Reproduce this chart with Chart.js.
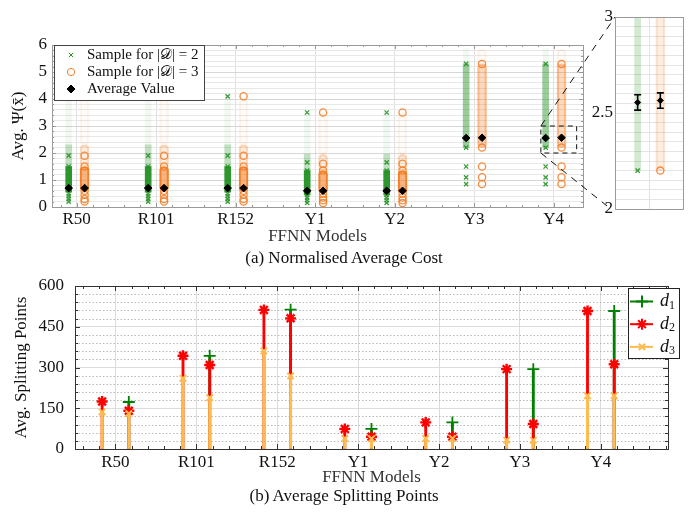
<!DOCTYPE html>
<html>
<head>
<meta charset="utf-8">
<script src="https://cdn.jsdelivr.net/npm/chart.js@4.4.0/dist/chart.umd.min.js"></script>
<style>
  html, body { margin: 0; padding: 0; background: #fff; }
  #fig { position: relative; width: 695px; height: 521px; overflow: hidden; }
  canvas { position: absolute; }
  .caption { position: absolute; left: 0; width: 688px; text-align: center; font: 17px "Liberation Serif", serif; color: #111; z-index: 5; }
</style>
</head>
<body>
<div id="fig">
  <canvas id="costChart" style="left:0;top:0" width="695" height="251"></canvas>
  <canvas id="zoomChart" style="left:580px;top:0" width="110" height="222"></canvas>
  <canvas id="splitChart" style="left:0;top:258px" width="695" height="234"></canvas>
  <div class="caption" style="top:248px">(a) Normalised Average Cost</div>
  <div class="caption" style="top:486px">(b) Average Splitting Points</div>
</div>
<script>
const models = ['R50', 'R101', 'R152', 'Y1', 'Y2', 'Y3', 'Y4'];

// (a) average cost per model, |D| = 2 and |D| = 3
const avgD2 = [0.70, 0.70, 0.70, 0.60, 0.60, 2.555, 2.555];
const avgD3 = [0.70, 0.70, 0.70, 0.60, 0.60, 2.565, 2.565];
const errD2 = [0.03, 0.03, 0.03, 0.03, 0.03, 0.04, 0.04];
const errD3 = [0.03, 0.03, 0.03, 0.03, 0.03, 0.04, 0.04];

// sample clouds as [low, high]: dense core, mid-density column, lighter spread, faint tail
const denseD2 = [[0.55, 1.5], [0.55, 1.5], [0.55, 1.5], [0.45, 1.35], [0.45, 1.35], null, null];
const midD2 = [null, null, null, null, null, [2.2, 5.3], [2.2, 5.3]];
const spreadD2 = [[1.5, 2.3], [1.5, 2.3], [1.5, 2.3], [1.35, 1.95], [1.35, 1.95], null, null];
const faintD2 = [[2.3, 4.0], [2.3, 4.0], [2.3, 4.0], [1.95, 3.5], [1.95, 3.5], [5.3, 5.85], [5.3, 5.85]];
const denseD3 = [[0.6, 1.5], [0.6, 1.5], [0.6, 1.5], [0.5, 1.35], [0.5, 1.35], null, null];
const midD3 = [null, null, null, null, null, [2.2, 5.3], [2.2, 5.3]];
const spreadD3 = [[1.5, 2.3], [1.5, 2.3], [1.5, 2.3], [1.35, 1.95], [1.35, 1.95], null, null];
const faintD3 = [[2.3, 4.0], [2.3, 4.0], [2.3, 4.0], [1.95, 3.5], [1.95, 3.5], [5.3, 5.85], [5.3, 5.85]];

// single samples that stand out
const pointsD2 = [
  [0.2, 0.3, 0.4, 0.5, 1.5, 1.9],
  [0.2, 0.3, 0.4, 0.5, 1.5, 1.9],
  [0.2, 0.3, 0.4, 0.5, 1.5, 1.9, 4.1],
  [0.15, 0.25, 0.35, 0.45, 1.35, 1.65, 3.5],
  [0.15, 0.25, 0.35, 0.45, 1.35, 1.65, 3.5],
  [0.85, 1.1, 1.5, 2.2, 5.3],
  [0.85, 1.1, 1.5, 2.2, 5.3]
];
const pointsD3 = [
  [0.2, 0.3, 0.45, 0.6, 1.5, 1.9],
  [0.2, 0.3, 0.45, 0.6, 1.5, 1.9],
  [0.2, 0.3, 0.45, 0.6, 1.5, 1.9, 4.1],
  [0.15, 0.25, 0.35, 0.5, 1.35, 1.6, 3.5],
  [0.15, 0.25, 0.35, 0.5, 1.35, 1.6, 3.5],
  [0.85, 1.1, 1.5, 2.2, 5.3],
  [0.85, 1.1, 1.5, 2.2, 5.3]
];

// zoomed window on Y4
const zoomX = [6.84, 7.29];
const zoomY = [2, 3];

// (b) average splitting points (left stem group / right stem group)
const d2Left = [175, 343, 512, 74, 98, 294, 508];
const d3Left = [137, 260, 361, 39, 39, 33, 196];
const d1Right = [173, 343, 513, 74, 98, 294, 508];
const d2Right = [141, 309, 481, 45, 45, 92, 312];
const d3Right = [130, 189, 269, 38, 39, 32, 196];

const GREEN = '34,145,34';
const ORANGE = '245,128,40';
const D1 = 'rgb(0,128,0)';
const D2 = 'rgb(255,0,0)';
const D3 = 'rgb(255,186,80)';
const OFF = 0.1;
const GROUP_OFF = 0.165;
const SERIF = '"Liberation Serif", "DejaVu Serif", serif';

Chart.defaults.font.family = SERIF;
Chart.defaults.font.size = 17;
Chart.defaults.color = '#111';
Chart.defaults.animation = false;
Chart.defaults.responsive = false;
Chart.defaults.events = [];
Chart.defaults.plugins.legend.display = false;
Chart.defaults.plugins.tooltip.enabled = false;

const rgba = (c, a) => 'rgba(' + c + ',' + a + ')';

function band(ranges, dx, color, fillA, edgeA, width, order) {
    return {
        type: 'bar',
        data: ranges.map((r, i) => r ? { x: i + 1 + dx, y: r } : null).filter(Boolean),
        backgroundColor: rgba(color, fillA),
        borderColor: rgba(color, edgeA),
        borderWidth: edgeA > 0 ? 1.5 : 0,
        borderSkipped: false,
        borderRadius: edgeA > 0 ? 4 : 0,
        barPercentage: 1,
        categoryPercentage: 1,
        maxBarThickness: width,
        grouped: false,
        order: order
    };
}

function samples(lists, dx, style) {
    const data = [];
    lists.forEach((vals, i) => vals.forEach(v => data.push({ x: i + 1 + dx, y: v })));
    return Object.assign({ type: 'scatter', data: data, order: 2 }, style);
}

function averages(avg, dx, radius) {
    return {
        type: 'scatter',
        data: avg.map((v, i) => ({ x: i + 1 + dx, y: v })),
        pointStyle: 'rectRot', pointRadius: radius,
        backgroundColor: '#000', borderColor: '#000', borderWidth: 1,
        order: 0
    };
}

function costDatasets(k, diamond) {
    const green = { pointStyle: 'crossRot', pointRadius: 3, borderWidth: 1.3, borderColor: rgba(GREEN, 0.9), backgroundColor: 'transparent' };
    const orange = { pointStyle: 'circle', pointRadius: 3.6, borderWidth: 1.3, borderColor: rgba(ORANGE, 0.9), backgroundColor: 'transparent' };
    return [
        averages(avgD2, -OFF, diamond),
        averages(avgD3, OFF, diamond),
        samples(pointsD2, -OFF, green),
        samples(pointsD3, OFF, orange),
        band(denseD2, -OFF, GREEN, 0.95, 0, 6, 5),
        band(denseD3, OFF, ORANGE, 0.6, 1, 9, 5),
        band(midD2, -OFF, GREEN, 0.45 * k, 0, 6, 6),
        band(midD3, OFF, ORANGE, 0.3 * k, 0.5 * k, 9, 6),
        band(spreadD2, -OFF, GREEN, 0.28 * k, 0, 6, 7),
        band(spreadD3, OFF, ORANGE, 0.14 * k, 0.3 * k, 9, 7),
        band(faintD2, -OFF, GREEN, 0.06 * k, 0, 6, 8),
        band(faintD3, OFF, ORANGE, 0.03 * k, 0.08 * k, 9, 8)
    ];
}

function splitSeries(left, right, color, marker, width, order) {
    const pts = [];
    if (left) left.forEach((v, i) => pts.push({ x: i + 1 - GROUP_OFF, y: v }));
    right.forEach((v, i) => pts.push({ x: i + 1 + GROUP_OFF, y: v }));
    return [
        Object.assign({ type: 'scatter', data: pts.map(p => ({ ...p })), borderColor: color, backgroundColor: color, order: order }, marker),
        { type: 'bar', data: pts.map(p => ({ ...p })), backgroundColor: color, barPercentage: 1, categoryPercentage: 1,
          maxBarThickness: width, grouped: false, order: order + 1 }
    ];
}

// ---- small drawing plugins ----
function frame(color) {
    return {
        id: 'frame',
        afterDraw(chart) {
            const { ctx, chartArea: a } = chart;
            ctx.save();
            ctx.strokeStyle = color;
            ctx.lineWidth = 1;
            ctx.strokeRect(Math.round(a.left) + 0.5, Math.round(a.top) + 0.5, Math.round(a.right - a.left), Math.round(a.bottom - a.top));
            ctx.restore();
        }
    };
}

function stepValues(scale, step) {
    const out = [];
    const n0 = Math.ceil(scale.min / step - 1e-9), n1 = Math.floor(scale.max / step + 1e-9);
    for (let n = n0; n <= n1; n++) out.push(n * step);
    return out;
}
const isMult = (v, m) => Math.abs(v / m - Math.round(v / m)) < 1e-6;

function innerTicks(o) {
    return {
        id: 'innerTicks',
        afterDraw(chart) {
            const { ctx, chartArea: a, scales: { x, y } } = chart;
            ctx.save();
            ctx.strokeStyle = o.color;
            ctx.lineWidth = 1;
            ctx.beginPath();
            stepValues(x, o.xStep).forEach(v => {
                const px = Math.round(x.getPixelForValue(v)) + 0.5;
                const len = isMult(v, o.xMajor) ? o.major : o.minor;
                ctx.moveTo(px, a.bottom); ctx.lineTo(px, a.bottom - len);
                ctx.moveTo(px, a.top); ctx.lineTo(px, a.top + len);
            });
            stepValues(y, o.yStep).forEach(v => {
                const py = Math.round(y.getPixelForValue(v)) + 0.5;
                const len = isMult(v, o.yMajor) ? o.major : o.minor;
                ctx.moveTo(a.left, py); ctx.lineTo(a.left + len, py);
                ctx.moveTo(a.right, py); ctx.lineTo(a.right - len, py);
            });
            ctx.stroke();
            ctx.restore();
        }
    };
}

function dottedGrid(step, major, color) {
    return {
        id: 'dottedGrid',
        beforeDatasetsDraw(chart) {
            const { ctx, chartArea: a, scales: { y } } = chart;
            ctx.save();
            ctx.strokeStyle = color;
            ctx.lineWidth = 1;
            ctx.setLineDash([1.5, 2]);
            ctx.beginPath();
            stepValues(y, step).filter(v => !isMult(v, major)).forEach(v => {
                const py = Math.round(y.getPixelForValue(v)) + 0.5;
                ctx.moveTo(a.left, py); ctx.lineTo(a.right, py);
            });
            ctx.stroke();
            ctx.restore();
        }
    };
}

function errorBars(sets, cap, width) {
    return {
        id: 'errorBars',
        afterDatasetsDraw(chart) {
            const { ctx, chartArea: a, scales: { x, y } } = chart;
            ctx.save();
            ctx.beginPath();
            ctx.rect(a.left, a.top, a.right - a.left, a.bottom - a.top);
            ctx.clip();
            ctx.strokeStyle = '#000';
            ctx.lineWidth = width;
            ctx.beginPath();
            sets.forEach(s => s.avg.forEach((v, i) => {
                const px = x.getPixelForValue(i + 1 + s.dx);
                const lo = y.getPixelForValue(v - s.err[i]);
                const hi = y.getPixelForValue(v + s.err[i]);
                ctx.moveTo(px, lo); ctx.lineTo(px, hi);
                ctx.moveTo(px - cap, lo); ctx.lineTo(px + cap, lo);
                ctx.moveTo(px - cap, hi); ctx.lineTo(px + cap, hi);
            }));
            ctx.stroke();
            ctx.restore();
        }
    };
}

function drawRuns(ctx, runs, x, y) {
    runs.forEach(r => {
        ctx.font = r.font;
        ctx.fillText(r.t, x, y + (r.dy || 0));
        x += ctx.measureText(r.t).width;
    });
}

function legendBox(o) {
    return {
        id: 'legendBox',
        afterDraw(chart) {
            const { ctx, chartArea: a } = chart;
            const bx = o.fromRight ? a.right + o.dx : a.left + o.dx;
            const by = a.top + o.dy;
            ctx.save();
            ctx.fillStyle = '#fff';
            ctx.fillRect(bx, by, o.w, o.h);
            ctx.strokeStyle = o.border;
            ctx.lineWidth = 1;
            ctx.strokeRect(Math.round(bx) + 0.5, Math.round(by) + 0.5, o.w, o.h);
            o.items.forEach((it, k) => {
                const cy = by + o.first + k * o.row;
                ctx.strokeStyle = it.color;
                ctx.fillStyle = it.fill;
                if (o.line) {
                    ctx.lineWidth = 2;
                    ctx.beginPath();
                    ctx.moveTo(bx + o.line[0], cy); ctx.lineTo(bx + o.line[1], cy);
                    ctx.stroke();
                }
                Chart.helpers.drawPoint(ctx, Object.assign({ rotation: 0 }, it.marker), bx + o.mx, cy);
                ctx.fillStyle = '#111';
                ctx.textBaseline = 'middle';
                drawRuns(ctx, it.runs, bx + o.tx, cy);
            });
            ctx.restore();
        }
    };
}

// ---- zoomed inset ----
const zoomChart = new Chart(document.getElementById('zoomChart'), {
    type: 'bar',
    data: { datasets: costDatasets(0.45, 3) },
    options: {
        devicePixelRatio: 1,
        layout: { padding: { top: 17, right: 7, left: 0, bottom: 0 } },
        scales: {
            x: {
                type: 'linear', min: 6.7, max: 7.3, offset: false,
                afterBuildTicks: s => { s.ticks = [{ value: 7 }]; },
                ticks: { display: false },
                grid: { color: '#e2e2e2', drawTicks: false, offset: false },
                border: { display: false },
                afterFit: s => { s.height = 13; }
            },
            y: {
                min: zoomY[0], max: zoomY[1],
                ticks: { stepSize: 0.05, autoSkip: false, padding: 2, callback: v => isMult(v, 0.5) ? String(+v.toFixed(1)) : '' },
                grid: { color: '#e4e4e4', drawTicks: false },
                border: { display: false },
                afterFit: s => { s.width = 35; }
            }
        }
    },
    plugins: [
        frame('#9a9a9a'),
        errorBars([{ avg: avgD2, err: errD2, dx: -OFF }, { avg: avgD3, err: errD3, dx: OFF }], 3.5, 1.6)
    ]
});

// ---- (a) main cost chart ----
const zoomLinks = {
    id: 'zoomLinks',
    afterDraw(chart) {
        const { ctx, scales: { x, y } } = chart;
        const l = x.getPixelForValue(zoomX[0]), r = x.getPixelForValue(zoomX[1]);
        const t = y.getPixelForValue(zoomY[1]), b = y.getPixelForValue(zoomY[0]);
        const zc = zoomChart.canvas, za = zoomChart.chartArea;
        const ox = zc.offsetLeft - chart.canvas.offsetLeft, oy = zc.offsetTop - chart.canvas.offsetTop;
        ctx.save();
        ctx.strokeStyle = '#111';
        ctx.lineWidth = 1;
        ctx.setLineDash([5, 4]);
        ctx.strokeRect(l, t, r - l, b - t);
        ctx.setLineDash([7, 6]);
        ctx.beginPath();
        ctx.moveTo(l, t); ctx.lineTo(ox + za.left, oy + za.top);
        ctx.moveTo(l, b); ctx.lineTo(ox + za.left - 8, oy + za.bottom - 3);
        ctx.stroke();
        ctx.restore();
    }
};

new Chart(document.getElementById('costChart'), {
    type: 'bar',
    data: { datasets: costDatasets(1, 3.8) },
    options: {
        devicePixelRatio: 1,
        layout: { padding: { left: 4, top: 45, right: 112, bottom: 0 } },
        scales: {
            x: {
                type: 'linear', min: 0.69, max: 7.37, offset: false,
                afterBuildTicks: s => { s.ticks = models.map((m, i) => ({ value: i + 1 })); },
                ticks: { autoSkip: false, maxRotation: 0, padding: 2, callback: v => models[Math.round(v) - 1] },
                grid: { color: '#e0e0e0', drawTicks: false, offset: false },
                border: { display: false },
                title: { display: true, text: 'FFNN Models', color: '#333', padding: { top: 4, bottom: 4 } },
                afterFit: s => { s.height = 44; }
            },
            y: {
                min: 0, max: 6,
                ticks: { stepSize: 0.2, autoSkip: false, padding: 5, callback: v => isMult(v, 1) ? String(Math.round(v)) : '' },
                grid: { color: c => isMult(c.tick.value, 1) ? '#d6d6d6' : '#e8e8e8', drawTicks: false },
                border: { display: false },
                title: { display: true, text: 'Avg. Ψ(x̄)', padding: { top: 4, bottom: 4 } },
                afterFit: s => { s.width = 48; }
            }
        }
    },
    plugins: [
        innerTicks({ xStep: 0.2, xMajor: 1, yStep: 0.2, yMajor: 1, minor: 2, major: 4, color: '#999' }),
        frame('#9a9a9a'),
        errorBars([{ avg: avgD2, err: errD2, dx: -OFF }, { avg: avgD3, err: errD3, dx: OFF }], 2, 1),
        zoomLinks,
        legendBox({
            fromRight: false, dx: 2, dy: 0, w: 150, h: 55, first: 10, row: 17, mx: 17, tx: 33, border: '#444',
            items: [
                { marker: { pointStyle: 'crossRot', radius: 3, borderWidth: 1.3 }, color: rgba(GREEN, 1), fill: 'transparent',
                  runs: [{ t: 'Sample for |', font: '15px ' + SERIF }, { t: '𝒟', font: '15px ' + SERIF }, { t: '| = 2', font: '15px ' + SERIF }] },
                { marker: { pointStyle: 'circle', radius: 3.6, borderWidth: 1.3 }, color: rgba(ORANGE, 1), fill: 'transparent',
                  runs: [{ t: 'Sample for |', font: '15px ' + SERIF }, { t: '𝒟', font: '15px ' + SERIF }, { t: '| = 3', font: '15px ' + SERIF }] },
                { marker: { pointStyle: 'rectRot', radius: 4, borderWidth: 1 }, color: '#000', fill: '#000',
                  runs: [{ t: 'Average Value', font: '15px ' + SERIF }] }
            ]
        })
    ]
});

// ---- (b) splitting points ----
new Chart(document.getElementById('splitChart'), {
    type: 'bar',
    data: {
        datasets: [
            ...splitSeries(d3Left, d3Right, D3, { pointStyle: 'crossRot', pointRadius: 4.5, borderWidth: 2 }, 2.4, 0),
            ...splitSeries(d2Left, d2Right, D2, { pointStyle: 'star', pointRadius: 5.5, borderWidth: 2.4 }, 2.2, 2),
            ...splitSeries(null, d1Right, D1, { pointStyle: 'cross', pointRadius: 6, borderWidth: 1.8 }, 2.2, 4)
        ]
    },
    options: {
        devicePixelRatio: 1,
        layout: { padding: { left: 7, top: 28, right: 27, bottom: 0 } },
        scales: {
            x: {
                type: 'linear', min: 0.5, max: 7.83, offset: false,
                afterBuildTicks: s => { s.ticks = models.map((m, i) => ({ value: i + 1 })); },
                ticks: { autoSkip: false, maxRotation: 0, padding: 3, callback: v => models[Math.round(v) - 1] },
                grid: { color: '#dcdcdc', drawTicks: false, offset: false },
                border: { display: false },
                title: { display: true, text: 'FFNN Models', color: '#333', padding: { top: 4, bottom: 4 } },
                afterFit: s => { s.height = 43; }
            },
            y: {
                min: 0, max: 600,
                ticks: { stepSize: 150, padding: 11 },
                grid: { color: '#dcdcdc', drawTicks: false },
                border: { display: false },
                title: { display: true, text: 'Avg. Splitting Points', padding: { top: 4, bottom: 4 } },
                afterFit: s => { s.width = 68; }
            }
        }
    },
    plugins: [
        dottedGrid(30, 150, '#b8b8b8'),
        innerTicks({ xStep: 0.2, xMajor: 1, yStep: 30, yMajor: 150, minor: 3, major: 5, color: '#333' }),
        frame('#333'),
        legendBox({
            fromRight: true, dx: -40, dy: 2, w: 51, h: 70, first: 13.5, row: 22.7, mx: 14, tx: 32, line: [2, 25], border: '#222',
            items: [
                { marker: { pointStyle: 'cross', radius: 6, borderWidth: 1.8 }, color: D1, fill: D1,
                  runs: [{ t: 'd', font: 'italic 18px ' + SERIF }, { t: '1', font: '12px ' + SERIF, dy: 4 }] },
                { marker: { pointStyle: 'star', radius: 5.5, borderWidth: 2.4 }, color: D2, fill: D2,
                  runs: [{ t: 'd', font: 'italic 18px ' + SERIF }, { t: '2', font: '12px ' + SERIF, dy: 4 }] },
                { marker: { pointStyle: 'crossRot', radius: 4.5, borderWidth: 2 }, color: D3, fill: D3,
                  runs: [{ t: 'd', font: 'italic 18px ' + SERIF }, { t: '3', font: '12px ' + SERIF, dy: 4 }] }
            ]
        })
    ]
});
</script>
</body>
</html>
